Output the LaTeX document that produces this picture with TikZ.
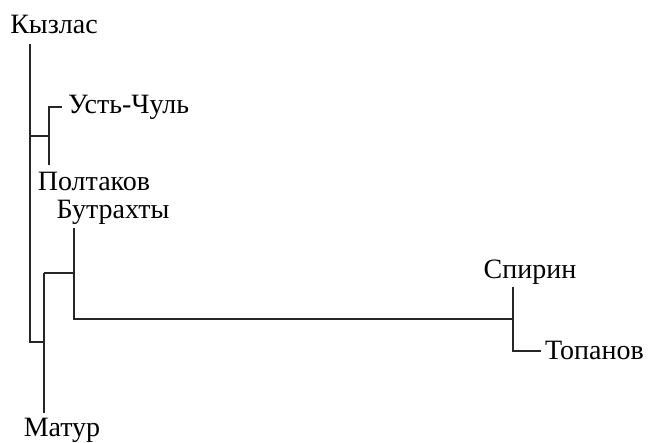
\documentclass[tikz,border=0pt]{standalone}
\usepackage{fontspec}
\setmainfont{Liberation Serif}
\begin{document}
\begin{tikzpicture}[x=1pt,y=-1pt,
  lbl/.style={inner sep=0pt,font=\fontsize{28}{28}\selectfont},
  edge/.style={line width=1.2pt,black!85}]
\useasboundingbox (0,0) rectangle (648,442);
% leaf labels
\node[lbl] (kyz) at (54,24) {Кызлас};
\node[lbl,anchor=west] (ust) at (68,107) {Усть-Чуль};
\node[lbl] (pol) at (94,181) {Полтаков};
\node[lbl] (but) at (113,212.5) {Бутрахты};
\node[lbl] (spi) at (530,272) {Спирин};
\node[lbl,anchor=west] (top) at (545,350) {Топанов};
\node[lbl] (mat) at (62,430) {Матур};
% internal branch points
\coordinate (kyzTop) at (30,44);
\coordinate (rootL) at (30,342);
\coordinate (rootR) at (44,342);
\coordinate (matTop) at (44,273);
\coordinate (matEnd) at (44,413);
\coordinate (upJ) at (30,136);
\coordinate (upM) at (49,136);
\coordinate (ustJ) at (49,107);
\coordinate (ustEnd) at (62,107);
\coordinate (polEnd) at (49,165);
\coordinate (butTop) at (74,228);
\coordinate (butJ) at (74,273);
\coordinate (butBot) at (74,319);
\coordinate (spiJ) at (513,319);
\coordinate (spiTop) at (513,287);
\coordinate (topJ) at (513,351);
\coordinate (topEnd) at (541,351);
% tree
\draw[edge] (kyzTop) -- (rootL) -- (rootR);
\draw[edge] (matTop) -- (matEnd);
\draw[edge] (upJ) -- (upM);
\draw[edge] (ustEnd) -- (ustJ) -- (polEnd);
\draw[edge] (matTop) -- (butJ);
\draw[edge] (butTop) -- (butBot) -- (spiJ);
\draw[edge] (spiTop) -- (topJ) -- (topEnd);
\end{tikzpicture}
\end{document}
